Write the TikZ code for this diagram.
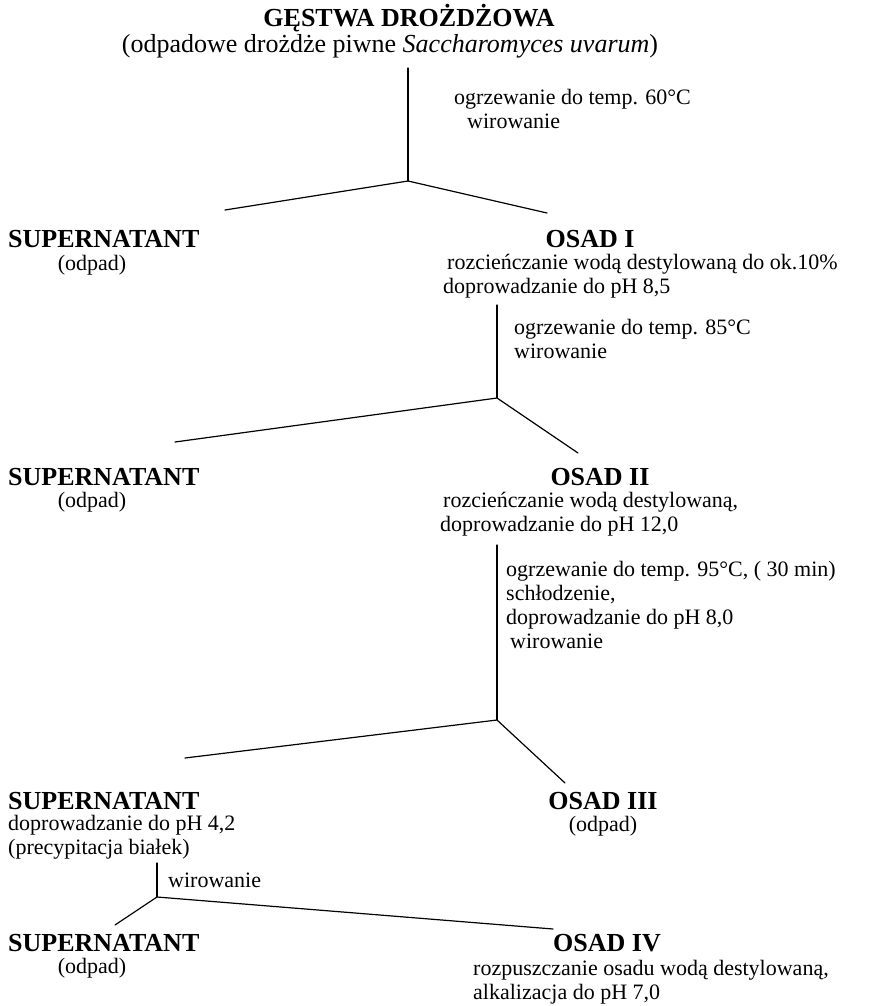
\documentclass[tikz,border=0pt]{standalone}
\usepackage{fontspec}
\setmainfont{Liberation Serif}
\tikzset{
  head/.style={font=\fontsize{26}{29}\selectfont\bfseries, inner sep=0pt},
  txt/.style={font=\fontsize{22}{24}\selectfont, inner sep=0pt, align=left},
  subt/.style={font=\fontsize{26}{29}\selectfont, inner sep=0pt},
  conn/.style={line width=1.2pt, line cap=round, line join=round}
}
\begin{document}
\begin{tikzpicture}[x=1pt,y=-1pt]
\useasboundingbox (0,0) rectangle (869,1006);
% top
\node[head] (title) at (409,18) {GĘSTWA DROŻDŻOWA};
\node[subt] (sub) at (390,46) {(odpadowe drożdże piwne \textit{Saccharomyces uvarum})};
\coordinate (v1) at (408,68);
\coordinate (j1) at (408,181);
\coordinate (l1) at (225,210);
\coordinate (r1) at (547,213);
\node[txt, anchor=west] (c1) at (454,109) {ogrzewanie do temp. 60°C\\\hspace{13pt}wirowanie};
\draw[conn] (v1) -- (j1);
\draw[conn] (l1) -- (j1) -- (r1);
% level 1
\node[head, anchor=west] (sup1) at (8,239) {SUPERNATANT};
\node[txt] (w1) at (92,265) {(odpad)};
\node[head] (osad1) at (590,239) {OSAD I};
\node[txt, anchor=west] (o1t) at (443,276) {\hspace{4pt}rozcieńczanie wodą destylowaną do ok.10\%\\doprowadzanie do pH 8,5};
\coordinate (v2) at (497,305);
\coordinate (j2) at (497,398);
\coordinate (l2) at (175,442);
\coordinate (r2) at (578,453);
\node[txt, anchor=west] (c2) at (514,339) {ogrzewanie do temp. 85°C\\wirowanie};
\draw[conn] (v2) -- (j2);
\draw[conn] (l2) -- (j2) -- (r2);
% level 2
\node[head, anchor=west] (sup2) at (8,477) {SUPERNATANT};
\node[txt] (w2) at (92,502) {(odpad)};
\node[head] (osad2) at (600,477) {OSAD II};
\node[txt, anchor=west] (o2t) at (440,514) {\hspace{3pt}rozcieńczanie wodą destylowaną,\\doprowadzanie do pH 12,0};
\coordinate (v3) at (497,545);
\coordinate (j3) at (497,720);
\coordinate (l3) at (185,758);
\coordinate (r3) at (565,783);
\node[txt, anchor=west] (c3) at (506,605) {ogrzewanie do temp. 95°C, ( 30 min)\\schłodzenie,\\doprowadzanie do pH 8,0\\\hspace{4pt}wirowanie};
\draw[conn] (v3) -- (j3);
\draw[conn] (l3) -- (j3) -- (r3);
% level 3
\node[head, anchor=west] (sup3) at (8,801) {SUPERNATANT};
\node[txt, anchor=west] (s3t) at (8,837) {doprowadzanie do pH 4,2\\(precypitacja białek)};
\node[head] (osad3) at (603,801) {OSAD III};
\node[txt] (w3) at (603,826) {(odpad)};
\coordinate (v4) at (157,863);
\coordinate (j4) at (157,897);
\coordinate (l4) at (115,925);
\coordinate (r4) at (553,929);
\node[txt, anchor=west] (c4) at (168,880) {wirowanie};
\draw[conn] (v4) -- (j4);
\draw[conn] (l4) -- (j4) -- (r4);
% level 4
\node[head, anchor=west] (sup4) at (8,943) {SUPERNATANT};
\node[txt] (w4) at (92,968) {(odpad)};
\node[head] (osad4) at (607,943) {OSAD IV};
\node[txt, anchor=west] (o4t) at (473,982) {rozpuszczanie osadu wodą destylowaną,\\alkalizacja do pH 7,0};
\end{tikzpicture}
\end{document}
